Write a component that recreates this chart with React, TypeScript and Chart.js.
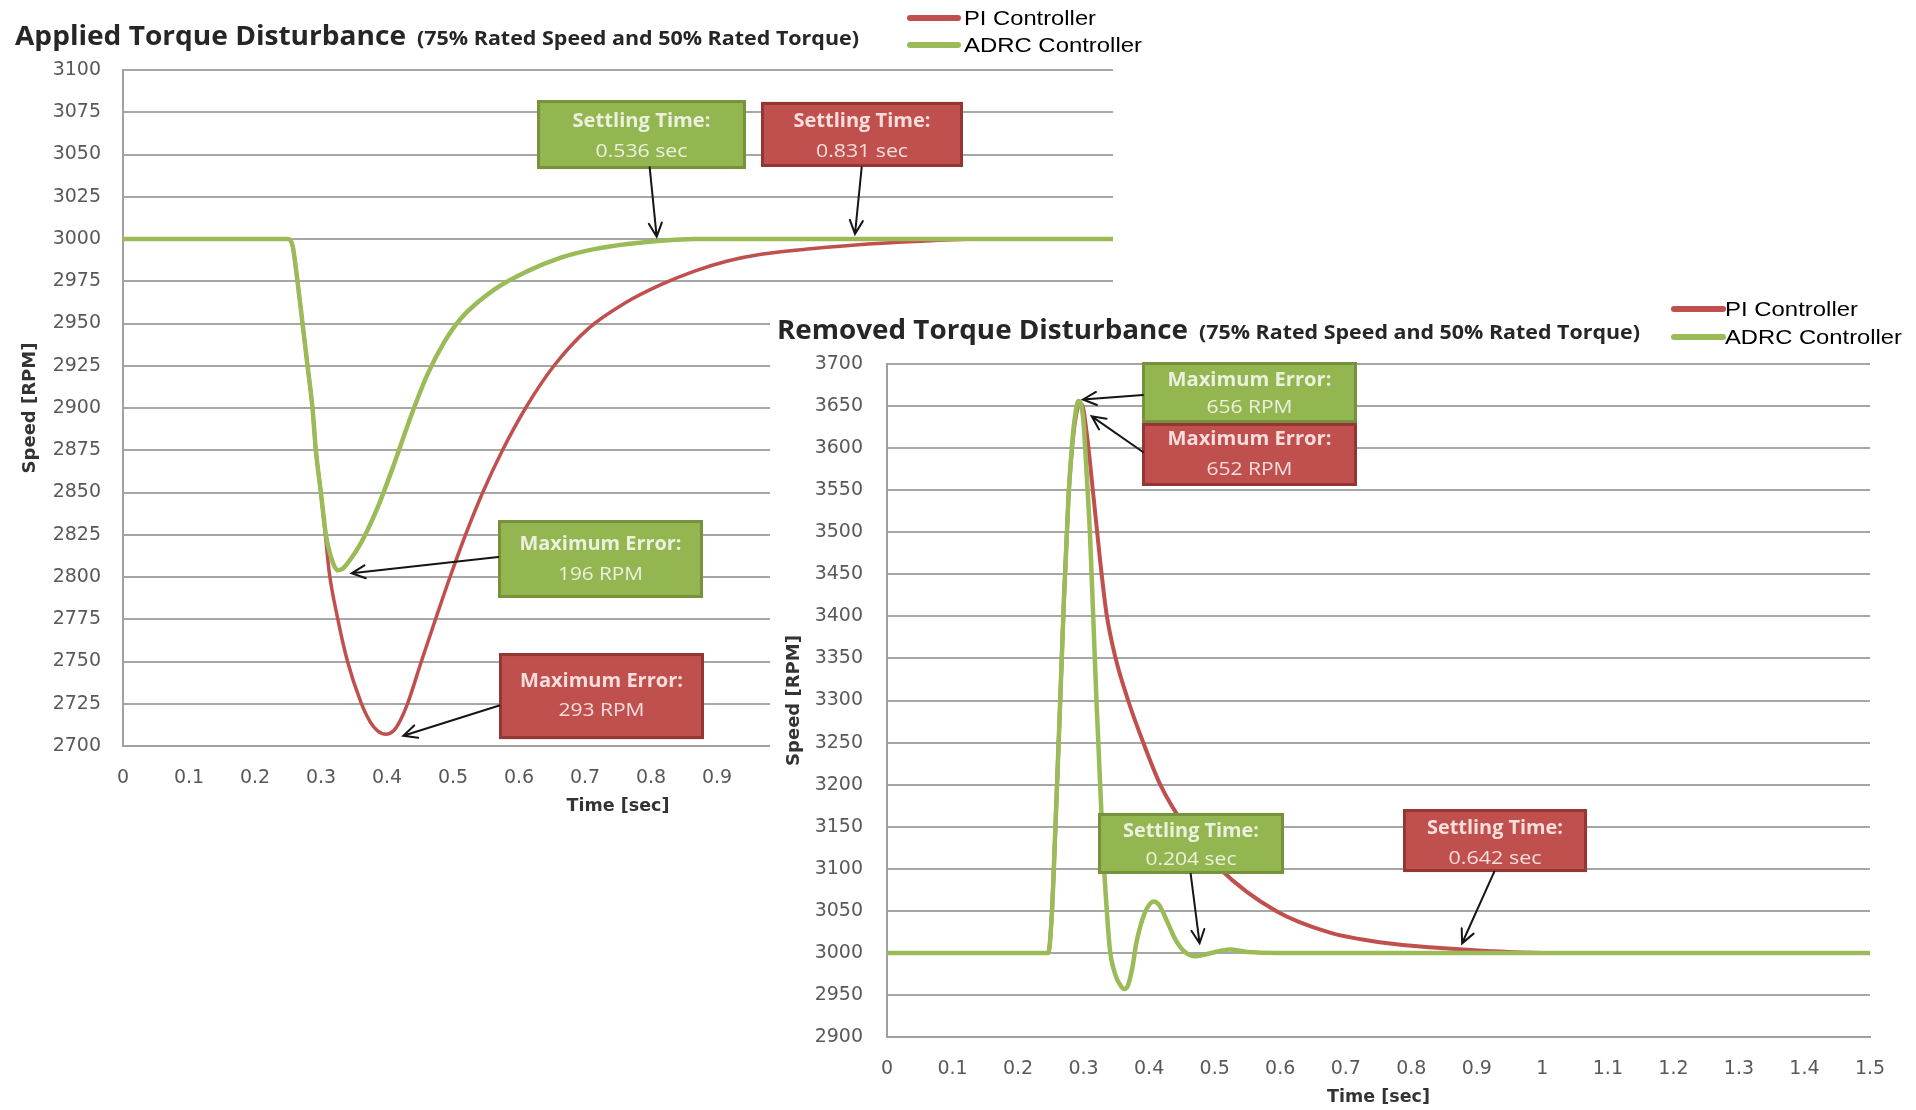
import React, { useEffect, useRef } from "react";
import { Chart, registerables } from "chart.js";

Chart.register(...registerables);

// ---------------- data ----------------
const seriesLabels = ["PI Controller", "ADRC Controller"];

// Chart 1: Applied torque disturbance
const t1Pi = [0, 0.1, 0.2, 0.25, 0.2569, 0.2644, 0.272, 0.2796, 0.2871, 0.2922, 0.2998, 0.3074, 0.3124, 0.325, 0.3402, 0.3604, 0.375, 0.3857, 0.3983, 0.41, 0.42, 0.4311, 0.452, 0.4735, 0.4955, 0.519, 0.545, 0.575, 0.61, 0.653, 0.705, 0.76, 0.815, 0.866, 0.916, 0.967, 1.05, 1.11, 1.2, 1.3, 1.5];
const v1Pi = [3000, 3000, 3000, 3000, 2996, 2975, 2950, 2925, 2900, 2875, 2850, 2822, 2803, 2776, 2750, 2726, 2714, 2709, 2707, 2709, 2715, 2725, 2750, 2775, 2800, 2825, 2850, 2875, 2900, 2925, 2947, 2962, 2973, 2981, 2987, 2991, 2994.5, 2996.5, 2998.5, 3000, 3000];
const t1Adrc = [0, 0.1, 0.2, 0.25, 0.2569, 0.2644, 0.272, 0.2796, 0.2871, 0.2922, 0.2998, 0.3074, 0.315, 0.32, 0.325, 0.333, 0.3402, 0.3604, 0.3857, 0.4109, 0.4361, 0.4615, 0.4867, 0.512, 0.5624, 0.613, 0.6635, 0.714, 0.7645, 0.815, 0.8656, 0.95, 1.05, 1.2, 1.35, 1.5];
const v1Adrc = [3000, 3000, 3000, 3000, 2996, 2975, 2950, 2925, 2900, 2875, 2850, 2825, 2812, 2806.5, 2804, 2805, 2808, 2820, 2841, 2867, 2895, 2920, 2939, 2953, 2970, 2981, 2989, 2994, 2997, 2999, 3000, 3000, 3000, 3000, 3000, 3000];

// Chart 2: Removed torque disturbance
const t2Pi = [0, 0.1, 0.2, 0.246, 0.2513, 0.258, 0.264, 0.27, 0.277, 0.283, 0.287, 0.292, 0.297, 0.3047, 0.315, 0.325, 0.335, 0.348, 0.368, 0.391, 0.417, 0.455, 0.508, 0.593, 0.676, 0.758, 0.839, 0.921, 1.0, 1.2, 1.5];
const v2Pi = [3000, 3000, 3000, 3000, 3043, 3170, 3293, 3420, 3543, 3605, 3632, 3650, 3652, 3618, 3543, 3468, 3403, 3353, 3300, 3250, 3200, 3150, 3100, 3050, 3024, 3012, 3006, 3002, 3000, 3000, 3000];
const t2Adrc = [0, 0.1, 0.2, 0.246, 0.2513, 0.258, 0.264, 0.27, 0.277, 0.283, 0.287, 0.292, 0.296, 0.2996, 0.305, 0.31, 0.315, 0.32, 0.325, 0.33, 0.335, 0.34, 0.348, 0.355, 0.362, 0.368, 0.375, 0.38, 0.386, 0.393, 0.4, 0.407, 0.414, 0.42, 0.43, 0.44, 0.452, 0.469, 0.49, 0.523, 0.55, 0.6, 0.8, 1.0, 1.2, 1.5];
const v2Adrc = [3000, 3000, 3000, 3000, 3043, 3170, 3293, 3420, 3543, 3610, 3638, 3656, 3652, 3633, 3565, 3493, 3393, 3293, 3205, 3118, 3055, 3005, 2975, 2963, 2957, 2962, 2985, 3010, 3030, 3047, 3057, 3061, 3058, 3050, 3033, 3016, 3003, 2996, 2999, 3004, 3001, 3000, 3000, 3000, 3000, 3000];

// ticks
const xTicks = [0, 0.1, 0.2, 0.3, 0.4, 0.5, 0.6, 0.7, 0.8, 0.9, 1, 1.1, 1.2, 1.3, 1.4, 1.5];
const xTickLabels = ["0", "0.1", "0.2", "0.3", "0.4", "0.5", "0.6", "0.7", "0.8", "0.9", "1", "1.1", "1.2", "1.3", "1.4", "1.5"];
const yTicks1 = [2700, 2725, 2750, 2775, 2800, 2825, 2850, 2875, 2900, 2925, 2950, 2975, 3000, 3025, 3050, 3075, 3100];
const yTicks2 = [2900, 2950, 3000, 3050, 3100, 3150, 3200, 3250, 3300, 3350, 3400, 3450, 3500, 3550, 3600, 3650, 3700];

// ---------------- styles ----------------
const RED = "#C0504D";
const GREEN = "#9BBB59";
const GRID = "#a6a6a6";
const AXIS = "#a0a0a0";
const TICK = "#595959";
const BOX = {
  green: { fill: "#94B651", edge: "#76923C", text: "#EBF1DE" },
  red: { fill: "#C0504D", edge: "#943634", text: "#F6DEDD" },
};

type Line = { text: string; bold: boolean; y: number; w: number };
type Ann = { kind: "green" | "red"; box: number[]; lines: Line[]; from: number[]; tip: number[] };

const anns1: Ann[] = [
  { kind: "green", box: [0.6273, 0.9439, 3082.2, 3041.4], lines: [{ text: "Settling Time:", bold: true, y: 3069.2, w: 138 }, { text: "0.536 sec", bold: false, y: 3051.5, w: 92 }], from: [0.798, 3042.4], tip: [0.8086, 3001.4] },
  { kind: "red", box: [0.9667, 1.2727, 3081.1, 3042.6], lines: [{ text: "Settling Time:", bold: true, y: 3069.2, w: 137 }, { text: "0.831 sec", bold: false, y: 3051.5, w: 92 }], from: [1.1192, 3042.4], tip: [1.1091, 3003] },
  { kind: "green", box: [0.5682, 0.8788, 2833.7, 2787.6], lines: [{ text: "Maximum Error:", bold: true, y: 2818.9, w: 162 }, { text: "196 RPM", bold: false, y: 2801.2, w: 85 }], from: [0.5686, 2811.8], tip: [0.3465, 2802.2] },
  { kind: "red", box: [0.5697, 0.8803, 2755.0, 2704.1], lines: [{ text: "Maximum Error:", bold: true, y: 2737.9, w: 163 }, { text: "293 RPM", bold: false, y: 2720.7, w: 86 }], from: [0.5702, 2724.0], tip: [0.4247, 2706.1] },
];
const anns2: Ann[] = [
  { kind: "green", box: [0.3891, 0.7172, 3702.4, 3629.9], lines: [{ text: "Maximum Error:", bold: true, y: 3679.8, w: 164 }, { text: "656 RPM", bold: false, y: 3647.7, w: 86 }], from: [0.3906, 3663.2], tip: [0.2991, 3657.8] },
  { kind: "red", box: [0.3891, 0.7172, 3629.9, 3555.0], lines: [{ text: "Maximum Error:", bold: true, y: 3609.7, w: 164 }, { text: "652 RPM", bold: false, y: 3574.0, w: 86 }], from: [0.3906, 3595.4], tip: [0.3124, 3637.8] },
  { kind: "green", box: [0.322, 0.6058, 3166.3, 3093.8], lines: [{ text: "Settling Time:", bold: true, y: 3144.0, w: 136 }, { text: "0.204 sec", bold: false, y: 3110.4, w: 91 }], from: [0.4634, 3093.8], tip: [0.477, 3011.4] },
  { kind: "red", box: [0.7874, 1.0682, 3171.0, 3096.1], lines: [{ text: "Settling Time:", bold: true, y: 3148.1, w: 136 }, { text: "0.642 sec", bold: false, y: 3112.4, w: 93 }], from: [0.9267, 3096.5], tip: [0.8776, 3011.4] },
];

function fitText(ctx: CanvasRenderingContext2D, text: string, x: number, y: number, w: number, font: string, align: CanvasTextAlign, baseline: CanvasTextBaseline) {
  ctx.save();
  ctx.font = font;
  const m = ctx.measureText(text).width || 1;
  const s = w / m;
  ctx.translate(x, y);
  ctx.scale(s, 1);
  ctx.textAlign = align;
  ctx.textBaseline = baseline;
  ctx.fillText(text, 0, 0);
  ctx.restore();
}

function arrow(ctx: CanvasRenderingContext2D, x1: number, y1: number, x2: number, y2: number) {
  ctx.save();
  ctx.strokeStyle = "#151515";
  ctx.lineWidth = 2;
  ctx.lineCap = "round";
  ctx.beginPath();
  ctx.moveTo(x1, y1);
  ctx.lineTo(x2, y2);
  const a = Math.atan2(y2 - y1, x2 - x1);
  const L = 15, sp = 0.45;
  ctx.moveTo(x2 - L * Math.cos(a - sp), y2 - L * Math.sin(a - sp));
  ctx.lineTo(x2, y2);
  ctx.lineTo(x2 - L * Math.cos(a + sp), y2 - L * Math.sin(a + sp));
  ctx.stroke();
  ctx.restore();
}

type Spec = {
  W: number; H: number;
  area: { left: number; top: number; right: number; bottom: number };
  xAxisH: number; yTickPad: number; yTitlePad: number; xTitlePad: number;
  yMin: number; yMax: number; yTicks: number[];
  series: { t: number[]; v: number[]; color: string; width: number; order: number }[];
  title: { main: string; sub: string; x: number; subX: number; base: number; wMain: number; wSub: number };
  legend: { x1: number; x2: number; tx: number; ys: number[]; ws: number[] };
  anns: Ann[];
};

function buildChart(canvas: HTMLCanvasElement, c: Spec) {
  const overlay = {
    id: "overlay",
    beforeDraw(chart: any) {
      const ctx = chart.ctx;
      ctx.save();
      ctx.fillStyle = "#ffffff";
      ctx.fillRect(0, 0, chart.width, chart.height);
      ctx.restore();
    },
    afterDatasetsDraw(chart: any) {
      const ctx: CanvasRenderingContext2D = chart.ctx;
      const xs = chart.scales.x, ys = chart.scales.y;
      for (const a of c.anns) {
        const st = BOX[a.kind];
        const x1 = xs.getPixelForValue(a.box[0]), x2 = xs.getPixelForValue(a.box[1]);
        const y1 = ys.getPixelForValue(a.box[2]), y2 = ys.getPixelForValue(a.box[3]);
        ctx.save();
        ctx.fillStyle = st.fill;
        ctx.fillRect(x1, y1, x2 - x1, y2 - y1);
        ctx.strokeStyle = st.edge;
        ctx.lineWidth = 3;
        ctx.strokeRect(x1 + 1.5, y1 + 1.5, x2 - x1 - 3, y2 - y1 - 3);
        ctx.fillStyle = st.text;
        const cx = (x1 + x2) / 2;
        for (const ln of a.lines) {
          fitText(ctx, ln.text, cx, ys.getPixelForValue(ln.y), ln.w, `${ln.bold ? "bold " : ""}19px "Open Sans"`, "center", "middle");
        }
        ctx.restore();
        arrow(ctx, xs.getPixelForValue(a.from[0]), ys.getPixelForValue(a.from[1]), xs.getPixelForValue(a.tip[0]), ys.getPixelForValue(a.tip[1]));
      }
    },
    afterDraw(chart: any) {
      const ctx: CanvasRenderingContext2D = chart.ctx;
      ctx.save();
      ctx.fillStyle = "#262626";
      fitText(ctx, c.title.main, c.title.x, c.title.base, c.title.wMain, 'bold 26px "Open Sans"', "left", "alphabetic");
      fitText(ctx, c.title.sub, c.title.subX, c.title.base, c.title.wSub, 'bold 20px "Open Sans"', "left", "alphabetic");
      chart.data.datasets.forEach((ds: any, i: number) => {
        const y = c.legend.ys[i];
        ctx.strokeStyle = ds.borderColor;
        ctx.lineWidth = 6;
        ctx.lineCap = "round";
        ctx.beginPath();
        ctx.moveTo(c.legend.x1, y);
        ctx.lineTo(c.legend.x2, y);
        ctx.stroke();
        ctx.fillStyle = "#000000";
        fitText(ctx, ds.label, c.legend.tx, y + 1, c.legend.ws[i], '21px "Liberation Sans"', "left", "middle");
      });
      ctx.restore();
    },
  };

  return new Chart(canvas, {
    type: "line",
    data: {
      datasets: c.series.map((s, i) => ({
        label: seriesLabels[i],
        data: s.t.map((t, k) => ({ x: t, y: s.v[k] })),
        borderColor: s.color,
        backgroundColor: s.color,
        borderWidth: s.width,
        order: s.order,
        pointRadius: 0,
        cubicInterpolationMode: "monotone" as const,
        borderCapStyle: "round" as const,
        borderJoinStyle: "round" as const,
        fill: false,
      })),
    },
    options: {
      responsive: false,
      animation: false,
      devicePixelRatio: 1,
      events: [],
      layout: { padding: { left: 0, top: c.area.top, right: c.W - c.area.right, bottom: c.H - c.area.bottom - c.xAxisH } },
      plugins: { legend: { display: false }, title: { display: false }, tooltip: { enabled: false } },
      scales: {
        x: {
          type: "linear",
          min: 0,
          max: 1.5,
          afterBuildTicks: (s: any) => { s.ticks = xTicks.map((v) => ({ value: v })); },
          afterFit: (s: any) => { s.height = c.xAxisH; },
          grid: { display: false, drawTicks: false },
          border: { display: true, color: AXIS, width: 2 },
          ticks: {
            autoSkip: false, maxRotation: 0, minRotation: 0, padding: 21, color: TICK,
            font: { family: "DejaVu Sans", size: 19 },
            callback: (_v: any, i: number) => xTickLabels[i],
          },
          title: { display: true, text: "Time [sec]", color: "#333333", font: { family: "DejaVu Sans", size: 17.5, weight: "bold" }, padding: { top: 0, bottom: c.xTitlePad } },
        },
        y: {
          type: "linear",
          min: c.yMin,
          max: c.yMax,
          afterBuildTicks: (s: any) => { s.ticks = c.yTicks.map((v) => ({ value: v })); },
          afterFit: (s: any) => { s.width = c.area.left; },
          grid: { color: GRID, lineWidth: 2, drawTicks: false },
          border: { display: true, color: AXIS, width: 2 },
          ticks: { autoSkip: false, padding: c.yTickPad, color: TICK, font: { family: "DejaVu Sans", size: 19 }, callback: (v: any) => String(v) },
          title: { display: true, text: "Speed [RPM]", color: "#333333", font: { family: "DejaVu Sans", size: 18, weight: "bold" }, padding: { top: c.yTitlePad, bottom: 0 } },
        },
      },
    } as any,
    plugins: [overlay],
  });
}

const spec1: Spec = {
  W: 1916, H: 1110,
  area: { left: 123, top: 70, right: 1113, bottom: 746 },
  xAxisH: 74, yTickPad: 22, yTitlePad: 19.7, xTitlePad: 3.5,
  yMin: 2700, yMax: 3100, yTicks: yTicks1,
  series: [
    { t: t1Pi, v: v1Pi, color: RED, width: 3.5, order: 1 },
    { t: t1Adrc, v: v1Adrc, color: GREEN, width: 4.5, order: 0 },
  ],
  title: { main: "Applied Torque Disturbance", sub: "(75% Rated Speed and 50% Rated Torque)", x: 15, subX: 417, base: 45, wMain: 391, wSub: 442 },
  legend: { x1: 910, x2: 958, tx: 964, ys: [18, 45], ws: [132, 178] },
  anns: anns1,
};

const spec2: Spec = {
  W: 1146, H: 816,
  area: { left: 117, top: 70, right: 1100, bottom: 743 },
  xAxisH: 73, yTickPad: 24, yTitlePad: 13.2, xTitlePad: 2.5,
  yMin: 2900, yMax: 3700, yTicks: yTicks2,
  series: [
    { t: t2Pi, v: v2Pi, color: RED, width: 4, order: 1 },
    { t: t2Adrc, v: v2Adrc, color: GREEN, width: 4.5, order: 0 },
  ],
  title: { main: "Removed Torque Disturbance", sub: "(75% Rated Speed and 50% Rated Torque)", x: 7, subX: 429, base: 45, wMain: 411, wSub: 441 },
  legend: { x1: 904, x2: 953, tx: 955, ys: [15, 43], ws: [133, 177] },
  anns: anns2,
};

export default function App() {
  const r1 = useRef<HTMLCanvasElement>(null);
  const r2 = useRef<HTMLCanvasElement>(null);
  useEffect(() => {
    const c1 = buildChart(r1.current as HTMLCanvasElement, spec1);
    const c2 = buildChart(r2.current as HTMLCanvasElement, spec2);
    return () => { c1.destroy(); c2.destroy(); };
  }, []);
  return (
    <div style={{ position: "absolute", left: 0, top: 0, width: 1916, height: 1110, overflow: "hidden", background: "#ffffff" }}>
      <canvas ref={r1} width={1916} height={1110} style={{ position: "absolute", left: 0, top: 0, width: 1916, height: 1110 }} />
      <canvas ref={r2} width={1146} height={816} style={{ position: "absolute", left: 770, top: 294, width: 1146, height: 816 }} />
    </div>
  );
}
